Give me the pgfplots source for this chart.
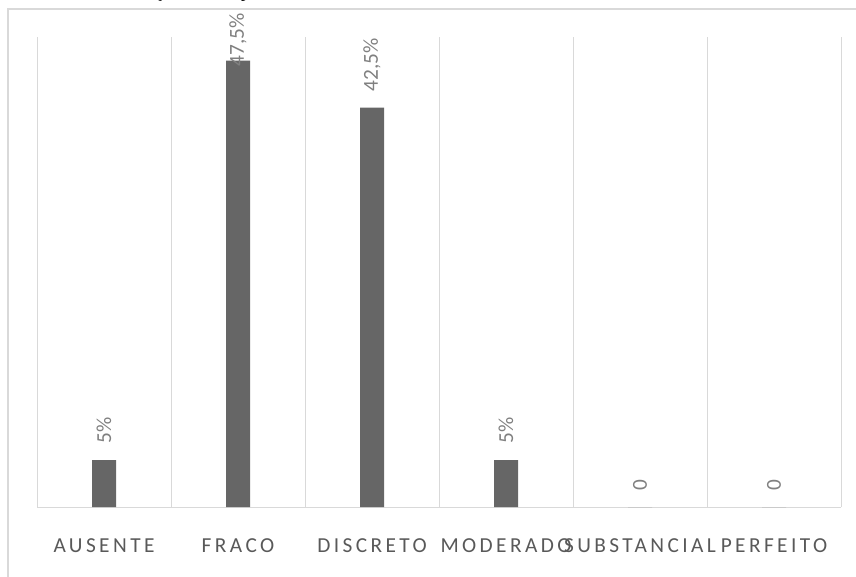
\documentclass[border=0pt]{standalone}
\usepackage{pgfplots}
\pgfplotsset{compat=1.18}
\usepackage{pgfplotstable}
\usepackage{fontspec}
\setmainfont{Carlito}
\newfontfamily\titlefont{Liberation Serif}
\newfontfamily\catfont[LetterSpace=16]{Carlito}
\definecolor{barc}{HTML}{666666}
\definecolor{gridc}{HTML}{D9D9D9}
\definecolor{labc}{HTML}{595959}
\definecolor{dlc}{HTML}{808080}

\pgfplotstableread{
x y lab
0 5 {5\%}
1 47.5 {47,5\%}
2 42.5 {42,5\%}
3 5 {5\%}
4 0 0
5 0 0
}\datatable

\begin{document}
\begin{tikzpicture}
\useasboundingbox (0,0) rectangle (642pt,432pt);
\draw[gridc, line width=1.5pt] (6pt,-5pt) -- (6pt,425.25pt) -- (650pt,425.25pt);
\node[anchor=base west, font=\titlefont\fontsize{14}{16}\selectfont, inner sep=0pt] at (2pt,433.5pt) {Gráfico 1 - Distribuição de escape nasal de ar na amostra estudada.};
\begin{axis}[
  at={(27.75pt,51.75pt)}, anchor=south west,
  scale only axis, width=603pt, height=352.5pt,
  xmin=-0.5, xmax=5.5, ymin=0, ymax=50,
  ybar, bar width=18pt,
  axis y line=none,
  axis x line*=bottom,
  x axis line style={draw=gridc, line width=0.75pt},
  xtick={0,...,5},
  xticklabels={AUSENTE,FRACO,DISCRETO,MODERADO,SUBSTANCIAL,PERFEITO},
  major tick length=0pt,
  minor xtick={-0.5,0.5,...,5.5}, minor tick length=0pt,
  xminorgrids, minor grid style={draw=gridc, line width=0.75pt},
  xticklabel style={font=\catfont\fontsize{16}{19}\selectfont, text=labc, anchor=base, yshift=-33.75pt},
  nodes near coords, point meta=explicit symbolic,
  every node near coord/.append style={yshift=12pt, rotate=90, anchor=west, font=\fontsize{16}{19}\selectfont, text=dlc, inner sep=0pt},
  coordinate style/.condition={y>45}{yshift=-16.5pt},
  clip=false
]
\addplot[fill=barc, draw=none] table[x=x, y=y, meta=lab] {\datatable};
\end{axis}
\end{tikzpicture}
\end{document}
